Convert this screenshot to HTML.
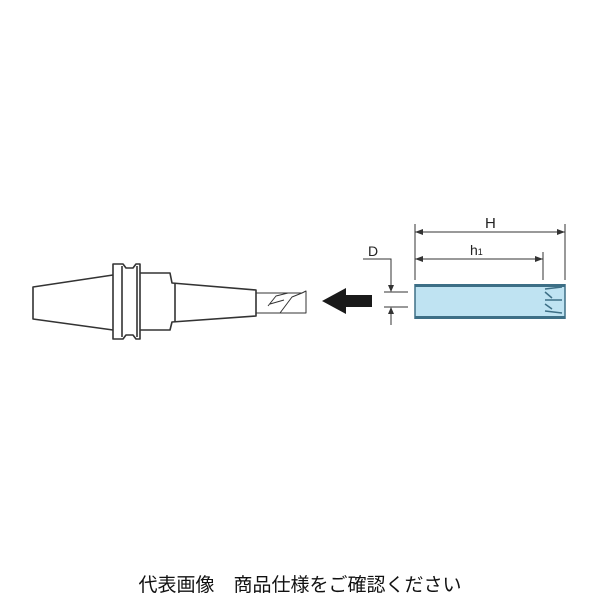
<!DOCTYPE html>
<html><head><meta charset="utf-8"><style>
body{margin:0;background:#fff;width:600px;height:600px;overflow:hidden;position:relative}
.t{position:absolute;left:0;width:600px;text-align:center;top:570px;font:19px "Liberation Sans","Noto Sans CJK JP",sans-serif;color:#111;white-space:nowrap}
</style></head><body>
<svg width="600" height="600" style="position:absolute;left:0;top:0">
<g fill="none" stroke="#333" stroke-width="1.6" stroke-linejoin="round">
<path d="M113,275 L33,287 L33,319 L113,330"/>
<path d="M113,264 L123,264 L126,268 L133,268 L136,264 L140,264 L140,339 L136,339 L133,335 L126,335 L123,339 L113,339 Z"/>
<line x1="122" y1="266" x2="122" y2="337"/><line x1="137" y1="266" x2="137" y2="337"/>
<path d="M140,273 L170,273 L172,283 L256,290 L256,316 L172,322 L170,330 L140,330"/>
<line x1="175" y1="283" x2="175" y2="322"/>
<path d="M256,293 L270,293 M256,313 L270,313" stroke-width="1"/>
<path d="M270,293 L302,293 L306,291 L306,313 L270,313" stroke-width="1"/>
<path d="M268,306 L276,296 L288,293 M280,313 L292,297 L302,293 M270,304 L284,300" stroke-width="1"/>
</g>
<polygon points="322,301 346,288 346,295 372,295 372,307 346,307 346,314" fill="#1a1a1a"/>
<rect x="415" y="284" width="150" height="35" fill="#bfe3f2"/>
<rect x="415" y="284" width="150" height="3" fill="#3d6f86"/>
<rect x="415" y="316" width="150" height="3" fill="#3d6f86"/>
<line x1="415" y1="284" x2="415" y2="319" stroke="#3d6f86" stroke-width="1.5"/>
<line x1="565" y1="284" x2="565" y2="319" stroke="#3d6f86" stroke-width="1.5"/>
<g stroke="#3d6f86" stroke-width="1.5"><path d="M545,289 L562,287 M545,300 L562,300 M545,311 L562,313 M545,292 L552,298 M545,304 L552,309"/></g>
<g stroke="#333" stroke-width="1" fill="none">
<line x1="415" y1="224" x2="415" y2="280"/><line x1="565" y1="224" x2="565" y2="280"/>
<line x1="543" y1="252" x2="543" y2="280"/>
<line x1="415" y1="232" x2="565" y2="232"/><line x1="415" y1="259" x2="543" y2="259"/>
<path d="M363,259 L391,259 L391,290"/><line x1="391" y1="309" x2="391" y2="325"/>
<line x1="384" y1="292" x2="408" y2="292"/><line x1="384" y1="307" x2="408" y2="307"/>
</g>
<g fill="#333">
<polygon points="415,232 423,229 423,235"/><polygon points="565,232 557,229 557,235"/>
<polygon points="415,259 423,256 423,262"/><polygon points="543,259 535,256 535,262"/>
<polygon points="391,292 388,285 394,285"/><polygon points="391,307 388,314 394,314"/>
</g>
<g font-family="Liberation Sans,sans-serif" fill="#222">
<text x="485" y="228" font-size="15">H</text>
<text x="470" y="255" font-size="14">h<tspan font-size="9">1</tspan></text>
<text x="368" y="256" font-size="14">D</text>
</g>
</svg>
<div class="t">代表画像　商品仕様をご確認ください</div>
</body></html>
